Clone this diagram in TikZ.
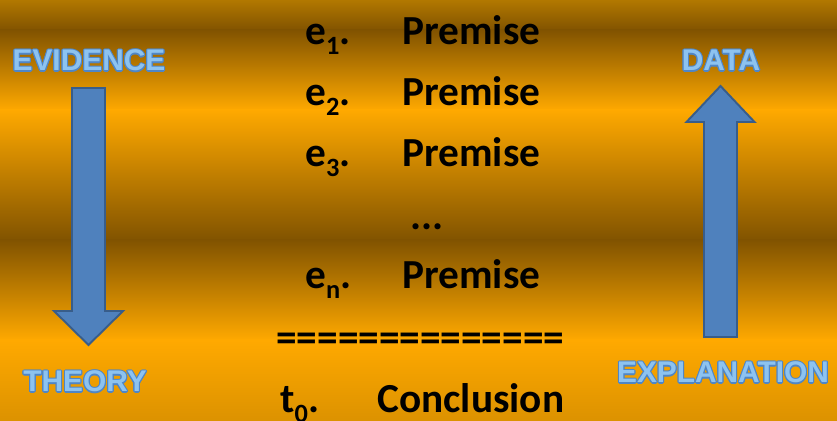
\documentclass[tikz,border=0pt]{standalone}
\usepackage{fontspec}
\setmainfont{Carlito}
\newfontfamily\lblfont{Liberation Sans}
\usepackage[copies]{contour}
\usetikzlibrary{calc}

\definecolor{bgtop}{HTML}{B27800}
\definecolor{bgdark}{HTML}{815300}
\definecolor{bglight}{HTML}{FFA900}
\definecolor{bgbottom}{HTML}{DC9200}
\definecolor{arrowfill}{HTML}{4F81BD}
\definecolor{arrowline}{HTML}{385D8A}
\definecolor{lblfill}{HTML}{8DC3F0}
\definecolor{lblline}{HTML}{4F86C6}

\contourlength{0.6pt}
\newcommand{\lowidx}[1]{\raisebox{-0.24em}{\fontsize{15}{15}\selectfont #1}}
\newcommand{\glowtext}[1]{\contour{lblline}{#1}}

\begin{document}
\begin{tikzpicture}[x=0.02cm, y=-0.02cm,
  prem/.style={font=\fontsize{23.5}{28}\selectfont\bfseries, text=black, inner sep=0pt, anchor=base west},
  lbl/.style={font=\lblfont\fontsize{17}{20}\selectfont\bfseries, text=lblfill, inner sep=0pt, anchor=base},
  blockarrow/.style={fill=arrowfill, draw=arrowline, line width=1.1pt, line join=miter}]

\useasboundingbox (0,0) rectangle (837,421);

% Background bands
\shade[top color=bgtop, bottom color=bgdark] (0,0) rectangle (837,30.5);
\shade[top color=bgdark, bottom color=bglight] (0,30) rectangle (837,110.5);
\shade[top color=bglight, bottom color=bgdark] (0,110) rectangle (837,240.5);
\shade[top color=bgdark, bottom color=bglight] (0,240) rectangle (837,340.5);
\shade[top color=bglight, bottom color=bgbottom] (0,340) rectangle (837,421);

% Side labels
\node[lbl] (ev) at (89,71)  {\glowtext{EVIDENCE}};
\node[lbl] (th) at (85,392) {\glowtext{THEORY}};
\node[lbl] (da) at (721,71) {\glowtext{DATA}};
\node[lbl] (ex) at (723,383) {\glowtext{EXPLANATION}};

% Block arrows
\coordinate (evfoot) at (88.5,88);
\coordinate (thtip)  at (88.5,345);
\filldraw[blockarrow] ($(evfoot)+(-16.5,0)$) -- ($(evfoot)+(16.5,0)$)
  -- ($(thtip)+(16.5,-34)$) -- ($(thtip)+(34.5,-34)$) -- (thtip)
  -- ($(thtip)+(-34.5,-34)$) -- ($(thtip)+(-16.5,-34)$) -- cycle;

\coordinate (exfoot) at (720.5,337);
\coordinate (datip)  at (720.5,86);
\filldraw[blockarrow] ($(exfoot)+(-16.5,0)$) -- ($(exfoot)+(16.5,0)$)
  -- ($(datip)+(16.5,36)$) -- ($(datip)+(34,36)$) -- (datip)
  -- ($(datip)+(-34,36)$) -- ($(datip)+(-16.5,36)$) -- cycle;

% Premises
\node[prem] (e1) at (305,45)  {e\lowidx{1}.};
\node[prem] (p1) at (402,45)  {Premise};
\node[prem] (e2) at (305,106) {e\lowidx{2}.};
\node[prem] (p2) at (402,106) {Premise};
\node[prem] (e3) at (305,167) {e\lowidx{3}.};
\node[prem] (p3) at (402,167) {Premise};
\node[prem] (dots) at (410,230) {...};
\node[prem] (en) at (305,289) {e\lowidx{n}.};
\node[prem] (pn) at (402,289) {Premise};

% Line and conclusion
\node[prem] (eqline) at (276,352) {==============};
\node[prem] (t0) at (280,413)    {t\lowidx{0}.};
\node[prem] (concl) at (377,413) {Conclusion};

\end{tikzpicture}
\end{document}
